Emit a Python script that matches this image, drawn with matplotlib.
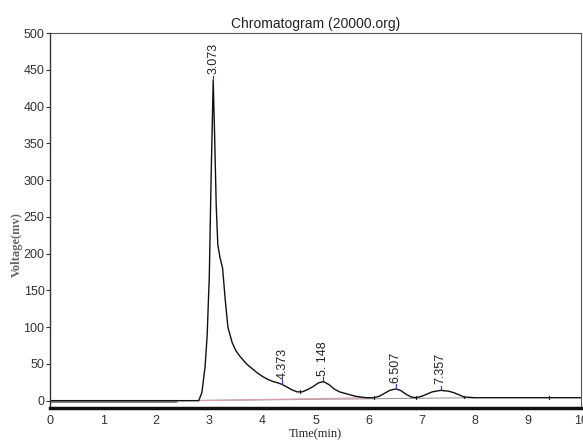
import matplotlib.pyplot as plt
import numpy as np

# Chromatogram trace (time in min, voltage in mV)
time = [0.0, 2.4, 2.8, 2.86, 2.92, 2.96, 3.0, 3.03, 3.073, 3.1, 3.13, 3.16,
        3.2, 3.25, 3.3, 3.35, 3.43, 3.5, 3.58, 3.7, 3.8, 3.9, 4.0, 4.1, 4.2,
        4.3, 4.373, 4.45, 4.55, 4.65, 4.75, 4.85, 4.95, 5.05, 5.148, 5.25,
        5.35, 5.45, 5.55, 5.65, 5.75, 5.85, 5.95, 6.1, 6.2, 6.3, 6.4, 6.507,
        6.6, 6.7, 6.8, 6.9, 7.0, 7.1, 7.2, 7.357, 7.5, 7.6, 7.7, 7.8, 8.0,
        9.0, 10.0]
voltage = [0, 0, 0, 11, 46, 90, 170, 290, 436, 360, 265, 212,
           195, 180, 137, 100, 79, 68, 60, 50, 44, 38, 33, 29, 26,
           24, 22, 19, 15, 12, 12, 15, 19, 24, 26, 22,
           16, 12, 10, 8, 6, 5, 4, 4, 6, 10, 14, 16,
           14, 9, 5, 4, 6, 9, 12, 14, 13, 11, 8, 5, 4,
           4, 4]

# Labelled peaks
peak_times = [3.073, 4.373, 5.148, 6.507, 7.357]
peak_heights = [436, 22, 26, 16, 14]
peak_labels = ["3.073", "4.373", "5. 148", "6.507", "7.357"]

# Peak boundary markers
bound_times = [4.7, 6.1, 6.9, 7.8, 9.4]
bound_heights = [12, 4, 4, 5, 4]

# Integration baselines
base_t = [2.8, 6.1]
base_v = [0, 4]
floor_t = [2.4, 8.0]
floor_v = [0, 4]

xticks = list(range(0, 11))
yticks = list(range(0, 501, 50))

fig = plt.figure(figsize=(5.83, 4.41), dpi=100)
ax = fig.add_axes([0.0858, 0.0748, 0.9108, 0.8502])

ax.plot(floor_t, floor_v, color="#9a9a9a", lw=0.8)
ax.plot([0, 2.4], [0, 0], color="#8c8c8c", lw=2.2, solid_capstyle="butt")
ax.plot(base_t, base_v, color="#d9a0a8", lw=0.9)
ax.plot(time, voltage, color="#111111", lw=1.0)

for t, v in zip(bound_times, bound_heights):
    ax.plot([t, t], [v - 2, v + 2], color="#222222", lw=0.8)

for t, v, lab in zip(peak_times, peak_heights, peak_labels):
    ax.plot([t, t], [v, v + 6], color="#3a3ad0", lw=0.9)
    ax.text(t, v + 8, lab, rotation=90, ha="center", va="bottom",
            fontsize=9, color="#222222", family=["Liberation Sans", "DejaVu Sans"])

ax.set_xlim(0, 10)
ax.set_ylim(-10, 500)
ax.set_xticks(xticks)
ax.set_yticks(yticks)
ax.set_xticklabels([str(x) for x in xticks],
                   family=["Liberation Sans", "DejaVu Sans"], fontsize=9)
ax.set_yticklabels([str(y) for y in yticks],
                   family=["Liberation Sans", "DejaVu Sans"], fontsize=9)
ax.tick_params(axis="y", length=3, width=0.8, pad=1, colors="#333333")
ax.tick_params(axis="x", length=0, pad=5, colors="#333333")

ax.spines["bottom"].set_linewidth(2.5)
ax.spines["bottom"].set_color("#111111")
ax.spines["left"].set_color("#333333")
ax.spines["left"].set_linewidth(1.0)
ax.spines["top"].set_color("#555555")
ax.spines["right"].set_color("#555555")

ax.set_title("Chromatogram (20000.org)", fontsize=10, pad=4,
             family=["Liberation Sans", "DejaVu Sans"], color="#222222")
ax.set_xlabel("Time(min)", fontsize=9, labelpad=1,
              family=["Liberation Serif", "DejaVu Serif"], color="#222222")
ax.set_ylabel("Voltage(mv)", fontsize=9, fontweight="bold",
              family=["Liberation Serif", "DejaVu Serif"], color="#666666")
ax.yaxis.set_label_coords(-0.051, 0.435)

fig.savefig("out.png", dpi=100)
